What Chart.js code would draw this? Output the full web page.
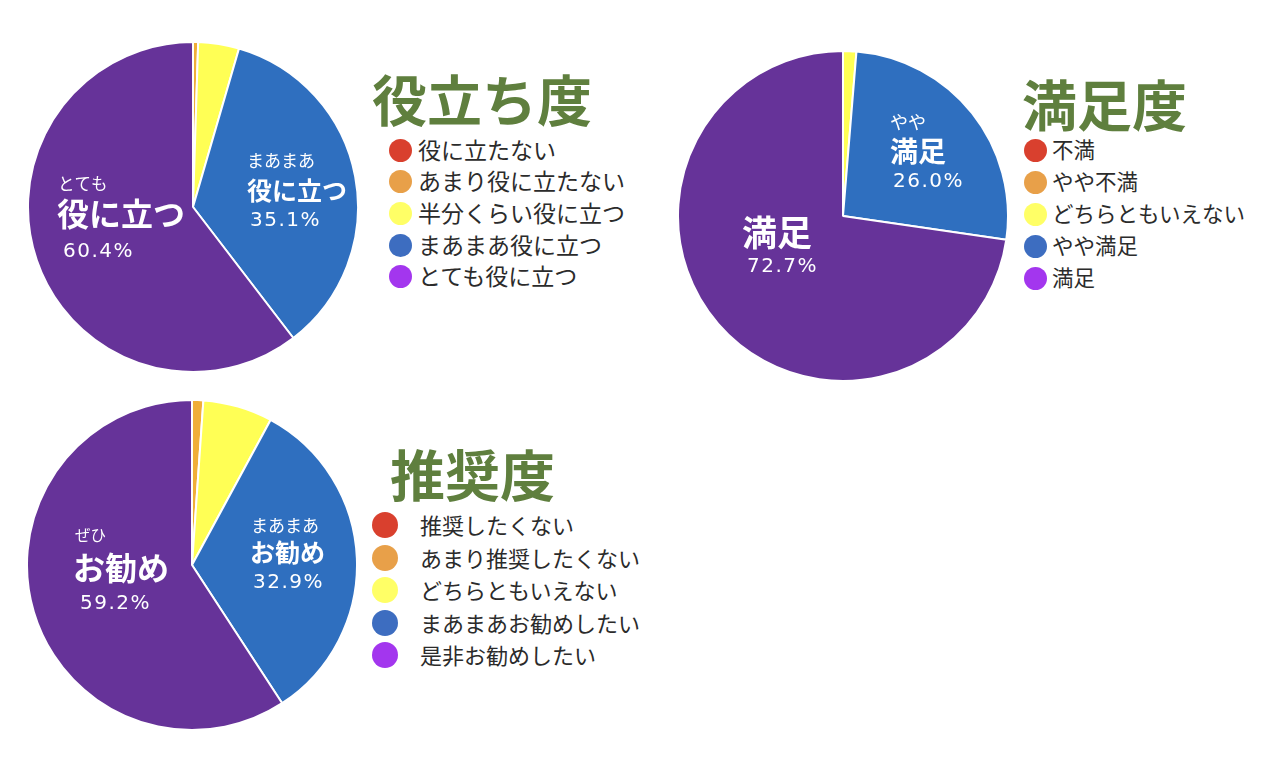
<!DOCTYPE html>
<html lang="ja">
<head>
<meta charset="utf-8">
<script src="https://cdn.jsdelivr.net/npm/chart.js@4.4.1/dist/chart.umd.min.js"></script>
<style>
  body { margin: 0; background: #fff; font-family: "Noto Sans CJK JP", sans-serif; }
  #page { position: relative; width: 1266px; height: 760px; overflow: hidden; }
  canvas.pie { position: absolute; }
  .title { position: absolute; font-weight: 700; color: #5f7f3e; font-size: 55px; line-height: 1; white-space: nowrap; }
  .legend { position: absolute; color: #2b2b2b; white-space: nowrap; }
  .legend .row { position: absolute; left: 0; }
  .legend .dot { position: absolute; border-radius: 50%; }
  .legend .txt { position: absolute; line-height: 1; }
</style>
</head>
<body>
<div id="page">
  <canvas id="pieUse" class="pie" width="332" height="332" style="left:27px;top:41px"></canvas>
  <canvas id="pieSat" class="pie" width="332" height="332" style="left:677px;top:50px"></canvas>
  <canvas id="pieRec" class="pie" width="332" height="332" style="left:26px;top:399px"></canvas>

  <div class="title" style="left:372px;top:70px">役立ち度</div>
  <div class="title" style="left:1022px;top:75px">満足度</div>
  <div class="title" style="left:390px;top:445px">推奨度</div>

  <div id="legUse" class="legend"></div>
  <div id="legSat" class="legend"></div>
  <div id="legRec" class="legend"></div>
</div>
<script>
// 役立ち度
const useCategories = ["役に立たない", "あまり役に立たない", "半分くらい役に立つ", "まあまあ役に立つ", "とても役に立つ"];
const useValues = [0, 0.5, 4.0, 35.1, 60.4];
const useTopWords = ["", "", "", "まあまあ", "とても"];
const useMainWords = ["", "", "", "役に立つ", "役に立つ"];

// 満足度
const satCategories = ["不満", "やや不満", "どちらともいえない", "やや満足", "満足"];
const satValues = [0, 0, 1.3, 26.0, 72.7];
const satTopWords = ["", "", "", "やや", ""];
const satMainWords = ["", "", "", "満足", "満足"];

// 推奨度
const recCategories = ["推奨したくない", "あまり推奨したくない", "どちらともいえない", "まあまあお勧めしたい", "是非お勧めしたい"];
const recValues = [0, 1.1, 6.8, 32.9, 59.2];
const recTopWords = ["", "", "", "まあまあ", "ぜひ"];
const recMainWords = ["", "", "", "お勧め", "お勧め"];

const sliceColors = ["#d9412f", "#f0ae38", "#ffff55", "#2f6fbf", "#663399"];
const legendColors = ["#d9402e", "#e8a049", "#ffff66", "#3d6dc0", "#a336ee"];

const jpFont = '"Noto Sans CJK JP", sans-serif';

// text inside slices, placed relative to the pie centre
const sliceText = {
  id: "sliceText",
  afterDatasetsDraw(chart, args, opts) {
    const ctx = chart.ctx;
    const meta = chart.getDatasetMeta(0);
    const values = chart.data.datasets[0].data;
    ctx.save();
    ctx.fillStyle = "#fff";
    ctx.textAlign = "left";
    ctx.textBaseline = "middle";
    Object.keys(opts.layout).forEach((k) => {
      const i = Number(k);
      const arc = meta.data[i];
      const L = opts.layout[k];
      const cx = arc.x, cy = arc.y;
      if (L.top && opts.top[i]) {
        ctx.letterSpacing = "0px";
        ctx.font = `400 ${L.top[2]}px ${jpFont}`;
        ctx.fillText(opts.top[i], cx + L.top[0], cy + L.top[1]);
      }
      if (L.main && opts.main[i]) {
        ctx.letterSpacing = "0px";
        ctx.font = `700 ${L.main[2]}px ${jpFont}`;
        ctx.fillText(opts.main[i], cx + L.main[0], cy + L.main[1]);
      }
      ctx.letterSpacing = "1.5px";
      ctx.font = '400 20px "DejaVu Sans", sans-serif';
      ctx.fillText(values[i].toFixed(1) + "%", cx + L.pct[0], cy + L.pct[1]);
    });
    ctx.restore();
  }
};

function makePie(id, labels, values, top, main, layout) {
  const canvas = document.getElementById(id);
  const existing = Chart.getChart(canvas);
  if (existing) existing.destroy();
  new Chart(canvas, {
    type: "pie",
    data: {
      labels,
      datasets: [{
        data: values,
        backgroundColor: sliceColors,
        borderColor: "#fff",
        borderWidth: 2
      }]
    },
    options: {
      responsive: false,
      animation: false,
      layout: { padding: 0 },
      plugins: {
        legend: { display: false },
        tooltip: { enabled: false },
        sliceText: { top, main, layout }
      }
    },
    plugins: [sliceText]
  });
}

function makeLegend(id, labels, opts) {
  const box = document.getElementById(id);
  box.style.left = opts.left + "px";
  box.style.top = opts.top + "px";
  labels.forEach((name, i) => {
    const row = document.createElement("div");
    row.className = "row";
    row.style.top = (i * opts.step) + "px";
    const dot = document.createElement("span");
    dot.className = "dot";
    dot.style.width = dot.style.height = opts.dot + "px";
    dot.style.left = (opts.dotX - opts.dot / 2) + "px";
    dot.style.top = (-opts.dot / 2) + "px";
    dot.style.background = legendColors[i];
    const txt = document.createElement("span");
    txt.className = "txt";
    txt.textContent = name;
    txt.style.left = opts.textX + "px";
    txt.style.fontSize = opts.size + "px";
    txt.style.top = (-opts.size / 2 - 1) + "px";
    row.appendChild(dot);
    row.appendChild(txt);
    box.appendChild(row);
  });
}

makePie("pieUse", useCategories, useValues, useTopWords, useMainWords, {
  3: { top: [54, -46, 17], main: [54, -17, 25], pct: [57, 14] },
  4: { top: [-135, -23, 16.5], main: [-136, 7, 32], pct: [-130, 45] }
});
makePie("pieSat", satCategories, satValues, satTopWords, satMainWords, {
  3: { top: [47, -94, 18], main: [47, -65, 28], pct: [50, -34] },
  4: { main: [-101, 17, 35], pct: [-96, 51] }
});
makePie("pieRec", recCategories, recValues, recTopWords, recMainWords, {
  3: { top: [59, -39, 17], main: [58, -13, 25], pct: [61, 18] },
  4: { top: [-117, -30, 15.5], main: [-119, 3, 32], pct: [-112, 39] }
});

makeLegend("legUse", useCategories, { left: 388, top: 150, step: 31.7, dot: 23, dotX: 12, textX: 30, size: 23 });
makeLegend("legSat", satCategories, { left: 1023, top: 150, step: 32, dot: 23, dotX: 12, textX: 29, size: 21.5 });
makeLegend("legRec", recCategories, { left: 372, top: 525, step: 32.5, dot: 26, dotX: 13, textX: 48, size: 22 });
</script>
</body>
</html>
